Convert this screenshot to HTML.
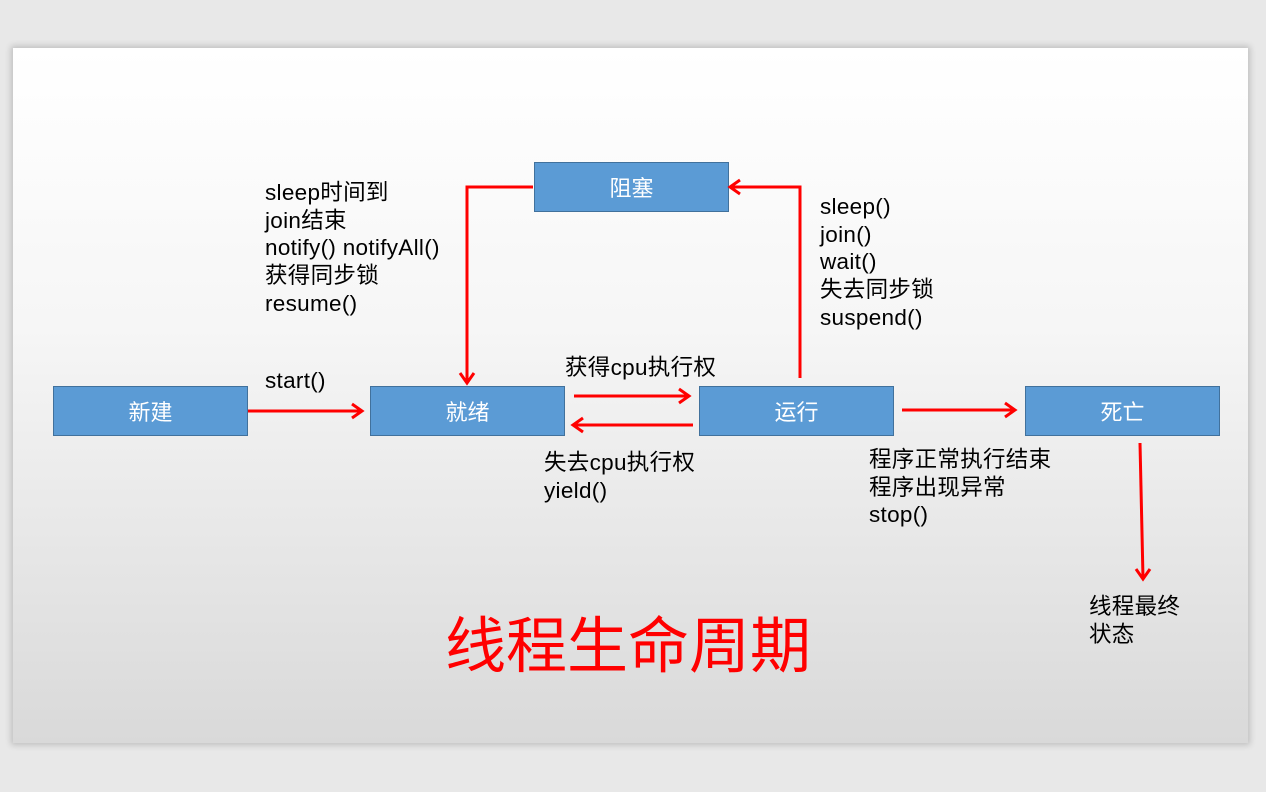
<!DOCTYPE html>
<html><head><meta charset="utf-8"><style>
html,body{margin:0;padding:0}
body{width:1266px;height:792px;background:#e8e8e8;position:relative;overflow:hidden;font-family:"Liberation Sans","Noto Sans CJK SC",sans-serif}
.slide{position:absolute;left:13px;top:48px;width:1235px;height:695px;background:linear-gradient(#ffffff 0%,#f6f6f6 40%,#d9d9d9 100%);box-shadow:0 0 6px 2px rgba(0,0,0,0.18)}
.box{position:absolute;background:#5b9bd5;border:1px solid #41719c;box-sizing:border-box;color:#fff;font-size:22px;display:flex;align-items:center;justify-content:center}
.t{position:absolute;font-size:22.5px;line-height:27.7px;color:#000;white-space:nowrap;letter-spacing:0.3px}
svg{position:absolute;left:0;top:0}
</style></head><body>
<div class="slide"></div>
<div class="box" style="left:53px;top:386px;width:195px;height:50px">新建</div>
<div class="box" style="left:370px;top:386px;width:195px;height:50px">就绪</div>
<div class="box" style="left:699px;top:386px;width:195px;height:50px">运行</div>
<div class="box" style="left:1025px;top:386px;width:195px;height:50px">死亡</div>
<div class="box" style="left:534px;top:162px;width:195px;height:50px">阻塞</div>
<svg width="1266" height="792" fill="none" stroke="#ff0000" stroke-width="3">
<polyline points="248,411 361,411"/><polyline points="352,404 362,411 352,418"/>
<polyline points="574,396 688,396"/><polyline points="679,389 689,396 679,403"/>
<polyline points="693,425 574,425"/><polyline points="583,418 573,425 583,432"/>
<polyline points="902,410 1014,410"/><polyline points="1005,403 1015,410 1005,417"/>
<polyline points="800,378 800,187 731,187"/><polyline points="740,180 730,187 740,194"/>
<polyline points="533,187 467,187 467,382"/><polyline points="460,373 467,383 474,373"/>
<polyline points="1140,443 1143,578"/><polyline points="1136,569 1143,579 1150,569"/>
</svg>
<div class="t" style="left:265px;top:179px">sleep时间到<br>join结束<br>notify() notifyAll()<br>获得同步锁<br>resume()</div>
<div class="t" style="left:820px;top:193px">sleep()<br>join()<br>wait()<br>失去同步锁<br>suspend()</div>
<div class="t" style="left:265px;top:367px">start()</div>
<div class="t" style="left:565px;top:354px">获得cpu执行权</div>
<div class="t" style="left:544px;top:449px">失去cpu执行权<br>yield()</div>
<div class="t" style="left:869px;top:446px">程序正常执行结束<br>程序出现异常<br>stop()</div>
<div class="t" style="left:1089px;top:593px">线程最终<br>状态</div>
<div style="position:absolute;left:445px;top:606px;font-size:61px;line-height:80px;color:#ff0000;white-space:nowrap">线程生命周期</div>
</body></html>
